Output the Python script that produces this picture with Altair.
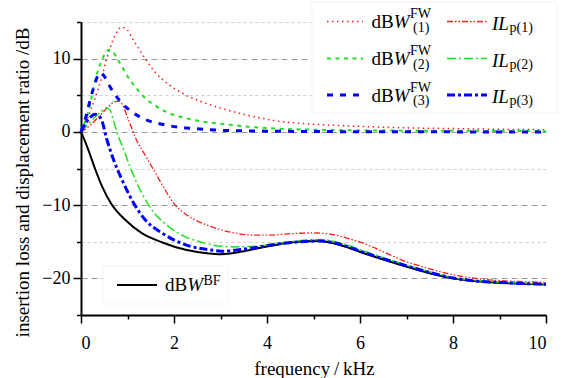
import altair as alt
import pandas as pd

SERIF = "Liberation Serif"

# ---- data ----
BF_f = [0, 0.1, 0.2, 0.3, 0.45, 0.65, 0.95, 1.3, 1.75, 2.25, 2.75, 3.0, 3.5, 4.0, 4.5, 5.1, 5.6, 6.1, 6.9, 7.5, 8.0, 8.5, 9.0, 9.5, 10]
BF_v = [0, -1.5, -3.2, -5.0, -7.4, -9.8, -12.0, -13.8, -15.1, -16.1, -16.6, -16.7, -16.3, -15.65, -15.1, -14.9, -15.5, -16.6, -18.2, -19.3, -20.0, -20.4, -20.6, -20.75, -20.85]

FW1_f = [0, 0.15, 0.3, 0.45, 0.55, 0.65, 0.75, 0.87, 1.0, 1.1, 1.2, 1.38, 1.6, 1.88, 2.17, 2.6, 3.03, 3.5, 4.2, 5, 6, 7, 8, 9, 10]
FW1_v = [0, 2.0, 4.6, 7.5, 9.9, 11.9, 13.4, 14.3, 13.9, 12.8, 11.8, 10.0, 8.1, 6.5, 5.3, 4.1, 3.2, 2.4, 1.5, 1.05, 0.75, 0.55, 0.45, 0.35, 0.3]

FW2_f = [0, 0.16, 0.3, 0.37, 0.45, 0.53, 0.61, 0.7, 0.77, 0.9, 1.02, 1.2, 1.38, 1.6, 1.81, 2.24, 2.67, 3.03, 3.6, 4.2, 5, 6, 8, 10]
FW2_v = [0, 2.8, 6.9, 8.5, 9.8, 10.8, 11.2, 10.8, 10.1, 8.7, 7.4, 5.9, 4.6, 3.6, 2.8, 1.9, 1.36, 1.1, 0.7, 0.45, 0.3, 0.2, 0.15, 0.1]

FW3_f = [0, 0.12, 0.19, 0.28, 0.35, 0.42, 0.5, 0.62, 0.84, 1.15, 1.46, 1.77, 2.1, 2.42, 2.74, 3.05, 4, 5, 6, 8, 10]
FW3_v = [0, 2.4, 4.2, 6.2, 7.5, 8.1, 7.6, 6.2, 4.2, 2.5, 1.5, 1.0, 0.63, 0.45, 0.3, 0.2, 0.1, 0.05, 0.02, 0, 0]

IL1_f = [0, 0.2, 0.4, 0.6, 0.72, 0.82, 0.9, 1.0, 1.2, 1.4, 1.6, 1.8, 2.0, 2.2, 2.45, 2.88, 3.3, 3.75, 4.0, 4.5, 4.95, 5.3, 5.72, 6.15, 6.65, 6.9, 7.5, 8.0, 8.5, 9.0, 9.5, 10]
IL1_v = [0, 0.9, 2.2, 3.5, 4.1, 4.2, 3.6, 2.0, -1.2, -3.4, -5.6, -7.8, -9.8, -11.0, -12.0, -13.1, -13.8, -14.1, -14.1, -13.9, -13.8, -13.9, -14.5, -15.4, -16.8, -17.5, -18.7, -19.5, -20.0, -20.3, -20.45, -20.55]

IL2_f = [0, 0.15, 0.3, 0.45, 0.55, 0.62, 0.7, 0.8, 0.88, 1.05, 1.27, 1.52, 1.88, 2.31, 2.56, 2.88, 3.3, 3.75, 4.36, 5.15, 5.6, 6.1, 6.9, 7.5, 8, 8.5, 9, 9.5, 10]
IL2_v = [0, 1.0, 2.0, 2.9, 3.3, 3.0, 1.5, -0.6, -1.8, -4.7, -7.9, -10.6, -12.9, -14.5, -15.0, -15.5, -15.7, -15.6, -15.1, -14.7, -15.2, -16.3, -18.0, -19.1, -19.9, -20.3, -20.5, -20.65, -20.75]

IL3_f = [0, 0.1, 0.2, 0.3, 0.38, 0.45, 0.55, 0.7, 0.88, 1.13, 1.38, 1.74, 2.24, 2.88, 3.0, 3.64, 4.36, 5.15, 5.6, 6.1, 6.9, 7.5, 8, 8.5, 9, 9.5, 10]
IL3_v = [0, 1.2, 2.0, 2.4, 2.2, 1.5, -0.9, -3.8, -6.5, -9.7, -12.0, -13.8, -15.4, -16.2, -16.3, -15.9, -15.2, -14.9, -15.4, -16.5, -18.1, -19.2, -19.95, -20.35, -20.55, -20.7, -20.8]

series = {
    "BF": (BF_f, BF_v),
    "FW1": (FW1_f, FW1_v),
    "FW2": (FW2_f, FW2_v),
    "FW3": (FW3_f, FW3_v),
    "IL1": (IL1_f, IL1_v),
    "IL2": (IL2_f, IL2_v),
    "IL3": (IL3_f, IL3_v),
}
rows = []
for name, (fs, vs) in series.items():
    for i, (f, v) in enumerate(zip(fs, vs)):
        rows.append({"s": name, "f": f, "v": v, "o": i})
df = pd.DataFrame(rows)

RED, GREEN, BLUE = "#ff1a1a", "#1ee01e", "#0000ff"
styles = {
    "BF": dict(color="black", strokeWidth=2),
    "IL1": dict(color=RED, strokeWidth=1.3, strokeDash=[6, 2, 1.5, 2, 1.5, 2]),
    "IL2": dict(color=GREEN, strokeWidth=1.5, strokeDash=[9, 3, 2, 3]),
    "FW1": dict(color=RED, strokeWidth=1.5, strokeDash=[1.5, 3.5]),
    "FW2": dict(color=GREEN, strokeWidth=2, strokeDash=[4, 4.5]),
    "FW3": dict(color=BLUE, strokeWidth=3, strokeDash=[6, 7]),
    "IL3": dict(color=BLUE, strokeWidth=3, strokeDash=[8, 3, 3, 3]),
}

W, H = 465, 293

xaxis = alt.Axis(
    values=list(range(0, 11)),
    labelExpr="datum.value % 2 == 0 ? datum.label : ''",
    title="frequency\u2009/\u2009kHz",
    grid=False,
    tickSize=8,
    tickDash={"condition": {"test": "datum.value % 2 != 0", "value": [4, 20]}, "value": [10, 0]},
    labelPadding=11,
    titleX=233, titleY=59, titleBaseline="alphabetic", titleAlign="center",
)
yaxis = alt.Axis(
    values=[-25, -20, -15, -10, -5, 0, 5, 10, 15],
    labelExpr="datum.value % 10 == 0 ? datum.label : ''",
    title="insertion loss and displacement ratio /dB",
    grid=True,
    gridColor={"condition": {"test": "datum.value % 10 == 0", "value": "#9a9a9a"}, "value": "#d0d0d0"},
    gridDash={"condition": {"test": "datum.value % 10 == 0", "value": [6, 4]}, "value": [3, 3]},
    tickSize=8,
    tickDash={"condition": {"test": "datum.value % 10 != 0", "value": [4.5, 20]}, "value": [10, 0]},
    labelPadding=3,
    titleAngle=270, titleX=-53, titleY=160, titleBaseline="alphabetic", titleAlign="center",
)
xs = alt.Scale(domain=[0, 10], nice=False)
ys = alt.Scale(domain=[-25, 15], nice=False)


def curve(name):
    return alt.Chart(df).transform_filter(alt.datum.s == name).mark_line(
        interpolate="monotone", **styles[name]
    ).encode(
        x=alt.X("f:Q", scale=xs, axis=xaxis),
        y=alt.Y("v:Q", scale=ys, axis=yaxis),
        order="o:Q",
    )


ONE = alt.Data(values=[{}])


def box(x1, x2, y1, y2):
    return alt.Chart(ONE).mark_rect(fill="white", stroke="#f3f3f3", strokeWidth=1).encode(
        x=alt.value(x1), x2=alt.value(x2), y=alt.value(y1), y2=alt.value(y2))


def sample(name, x1, x2, y):
    st = dict(styles[name])
    return alt.Chart(ONE).mark_rule(**st).encode(x=alt.value(x1), x2=alt.value(x2), y=alt.value(y))


def txt(x, y, s, size=19, italic=False):
    return alt.Chart(ONE).mark_text(
        text=s, font=SERIF, fontSize=size, fontStyle="italic" if italic else "normal",
        align="left", baseline="alphabetic", color="black",
    ).encode(x=alt.value(x), y=alt.value(y))


layers = [box(231, 476, -20, 91), box(22, 147, 244, 282)]
for name in ["BF", "FW1", "FW2", "IL1", "IL2", "FW3", "IL3"]:
    layers.append(curve(name))

row_y = [-0.5, 36.5, 73]
for i, ly in enumerate(row_y):
    k = i + 1
    layers.append(sample(f"FW{k}", 246, 282, ly))
    layers.append(txt(290.5, ly + 6.5, "dB"))
    layers.append(txt(312.7, ly + 6.5, "W", italic=True))
    layers.append(txt(329, ly - 3.5, "FW", size=14))
    layers.append(txt(332, ly + 10, f"({k})", size=14))
    layers.append(sample(f"IL{k}", 366, 406, ly))
    layers.append(txt(411, ly + 8, "IL", italic=True))
    layers.append(txt(428.5, ly + 10, f"p({k})", size=14))

layers.append(sample("BF", 36, 76, 263))
layers.append(txt(84, 268.7, "dB"))
layers.append(txt(106.2, 268.7, "W", italic=True))
layers.append(txt(122.5, 262.5, "BF", size=14))

chart = alt.layer(*layers).properties(
    width=W, height=H,
    autosize=alt.AutoSizeParams(type="none"),
    padding={"left": 81, "top": 22, "right": 16, "bottom": 63},
    background="white",
).configure_view(stroke="transparent").configure_axis(
    labelFont=SERIF, labelFontSize=18, labelColor="black",
    titleFont=SERIF, titleFontSize=19, titleFontWeight="normal", titleColor="black",
    domainColor="black", domainWidth=2, tickColor="black", tickWidth=1.5,
)

chart.save("out.html", embed_options={"renderer": "svg", "actions": False})
